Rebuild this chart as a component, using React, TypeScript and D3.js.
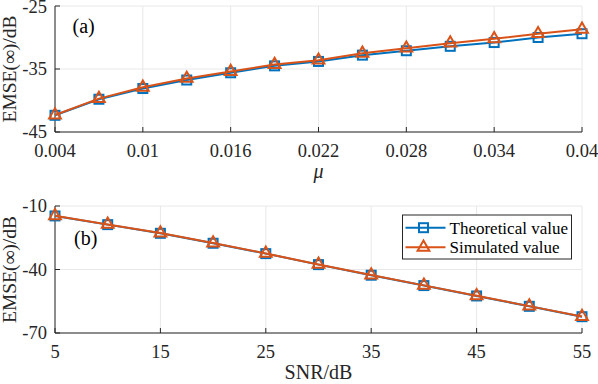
import React, { useEffect, useRef } from 'react';
import * as d3 from 'd3';

// (a) EMSE vs step size
const muValues = [0.004, 0.007, 0.01, 0.013, 0.016, 0.019, 0.022, 0.025, 0.028, 0.031, 0.034, 0.037, 0.04];
const muTheory = [-42.35, -39.8, -38.1, -36.75, -35.6, -34.5, -33.8, -32.8, -32.1, -31.4, -30.8, -30.0, -29.4];
const muSimulated = [-42.3, -39.7, -37.9, -36.5, -35.4, -34.3, -33.6, -32.5, -31.7, -30.9, -30.2, -29.4, -28.7];
const muTicks = [0.004, 0.01, 0.016, 0.022, 0.028, 0.034, 0.04];
const muYTicks = [-45, -35, -25];

// (b) EMSE vs SNR
const snrValues = [5, 10, 15, 20, 25, 30, 35, 40, 45, 50, 55];
const snrTheory = [-14.7, -18.8, -22.9, -27.6, -32.5, -37.7, -42.7, -47.6, -52.5, -57.4, -62.3];
const snrSimulated = [-14.6, -18.7, -22.8, -27.5, -32.4, -37.6, -42.6, -47.5, -52.4, -57.3, -62.2];
const snrTicks = [5, 15, 25, 35, 45, 55];
const snrYTicks = [-70, -40, -10];

const seriesNames = ['Theoretical value', 'Simulated value'];

const BLUE = '#0072BD';
const ORANGE = '#D95319';
const AXIS = '#262626';
const FONT = '"Liberation Serif", "Times New Roman", serif';

const App = () => {
    const ref = useRef<SVGSVGElement | null>(null);

    useEffect(() => {
        const svg = d3.select(ref.current);
        svg.selectAll('*').remove();

        const left = 55;
        const right = 582;

        const drawPanel = (opts: any) => {
            const { top, bottom, xs, ys1, ys2, xDomain, yDomain, xTicks, yTicks, xFmt, tag, tagX, tagY, xLabel, xLabelItalic, legend } = opts;
            const x = d3.scaleLinear().domain(xDomain).range([left, right]);
            const y = d3.scaleLinear().domain(yDomain).range([bottom, top]);
            const g = svg.append('g');

            // grid
            g.selectAll('.vg').data(xTicks).enter().append('line')
                .attr('x1', (d: number) => x(d)).attr('x2', (d: number) => x(d))
                .attr('y1', top).attr('y2', bottom)
                .attr('stroke', '#e8e8e8').attr('stroke-width', 1);
            g.selectAll('.hg').data(yTicks).enter().append('line')
                .attr('x1', left).attr('x2', right)
                .attr('y1', (d: number) => y(d)).attr('y2', (d: number) => y(d))
                .attr('stroke', '#e8e8e8').attr('stroke-width', 1);

            // axes lines
            g.append('line').attr('x1', left).attr('x2', right).attr('y1', bottom).attr('y2', bottom)
                .attr('stroke', AXIS).attr('stroke-width', 1);
            g.append('line').attr('x1', left).attr('x2', left).attr('y1', top).attr('y2', bottom)
                .attr('stroke', AXIS).attr('stroke-width', 1);

            // inward ticks
            g.selectAll('.xt').data(xTicks).enter().append('line')
                .attr('x1', (d: number) => x(d)).attr('x2', (d: number) => x(d))
                .attr('y1', bottom).attr('y2', bottom - 5)
                .attr('stroke', AXIS);
            g.selectAll('.yt').data(yTicks).enter().append('line')
                .attr('x1', left).attr('x2', left + 5)
                .attr('y1', (d: number) => y(d)).attr('y2', (d: number) => y(d))
                .attr('stroke', AXIS);

            // tick labels
            g.selectAll('.xl').data(xTicks).enter().append('text')
                .attr('x', (d: number) => x(d)).attr('y', bottom + 25)
                .attr('text-anchor', 'middle')
                .attr('font-family', FONT).attr('font-size', 18.5).attr('fill', AXIS)
                .text((d: number) => xFmt(d));
            g.selectAll('.yl').data(yTicks).enter().append('text')
                .attr('x', left - 8).attr('y', (d: number) => Math.max(y(d) + 6, 13))
                .attr('text-anchor', 'end')
                .attr('font-family', FONT).attr('font-size', 18.5).attr('fill', AXIS)
                .text((d: number) => String(d));

            // axis labels
            g.append('text')
                .attr('transform', `translate(16, ${(top + bottom) / 2}) rotate(-90)`)
                .attr('text-anchor', 'middle')
                .attr('font-family', FONT).attr('font-size', 19.5).attr('fill', AXIS)
                .text('EMSE(\u221E)/dB');
            g.append('text')
                .attr('x', (left + right) / 2).attr('y', bottom + 46)
                .attr('text-anchor', 'middle')
                .attr('font-family', FONT).attr('font-size', 20).attr('fill', AXIS)
                .attr('font-style', xLabelItalic ? 'italic' : 'normal')
                .text(xLabel);

            g.append('text')
                .attr('x', tagX).attr('y', tagY)
                .attr('font-family', FONT).attr('font-size', 20).attr('fill', '#000')
                .text(tag);

            const line = d3.line<[number, number]>().x((d) => x(d[0])).y((d) => y(d[1]));
            const d1 = xs.map((v: number, i: number) => [v, ys1[i]] as [number, number]);
            const d2 = xs.map((v: number, i: number) => [v, ys2[i]] as [number, number]);

            g.append('path').attr('d', line(d1)).attr('fill', 'none').attr('stroke', BLUE).attr('stroke-width', 2);
            g.selectAll('.sq').data(d1).enter().append('rect')
                .attr('x', (d: [number, number]) => x(d[0]) - 4.5).attr('y', (d: [number, number]) => y(d[1]) - 4.5)
                .attr('width', 9).attr('height', 9)
                .attr('fill', 'none').attr('stroke', BLUE).attr('stroke-width', 2);

            const tri = d3.symbol().type(d3.symbolTriangle).size(60);
            g.append('path').attr('d', line(d2)).attr('fill', 'none').attr('stroke', ORANGE).attr('stroke-width', 2);
            g.selectAll('.tr').data(d2).enter().append('path')
                .attr('d', tri())
                .attr('transform', (d: [number, number]) => `translate(${x(d[0])},${y(d[1])})`)
                .attr('fill', 'none').attr('stroke', ORANGE).attr('stroke-width', 2);

            if (legend) {
                const lx = 402.5;
                const ly = 215;
                g.append('rect').attr('x', lx).attr('y', ly).attr('width', 169).attr('height', 44)
                    .attr('fill', '#fff').attr('stroke', AXIS).attr('stroke-width', 1);
                seriesNames.forEach((name, i) => {
                    const cy = ly + 12.7 + i * 19.6;
                    const color = i === 0 ? BLUE : ORANGE;
                    g.append('line').attr('x1', lx + 3).attr('x2', lx + 43).attr('y1', cy).attr('y2', cy)
                        .attr('stroke', color).attr('stroke-width', 2);
                    if (i === 0) {
                        g.append('rect').attr('x', lx + 16.5).attr('y', cy - 4.5).attr('width', 9).attr('height', 9)
                            .attr('fill', 'none').attr('stroke', color).attr('stroke-width', 2);
                    } else {
                        g.append('path').attr('d', tri()).attr('transform', `translate(${lx + 21},${cy})`)
                            .attr('fill', 'none').attr('stroke', color).attr('stroke-width', 2);
                    }
                    g.append('text').attr('x', lx + 47).attr('y', cy + 6)
                        .attr('font-family', FONT).attr('font-size', 17).attr('fill', '#000')
                        .text(name);
                });
            }
        };

        drawPanel({
            top: 6, bottom: 132,
            xs: muValues, ys1: muTheory, ys2: muSimulated,
            xDomain: [0.004, 0.04], yDomain: [-45, -25],
            xTicks: muTicks, yTicks: muYTicks,
            xFmt: (d: number) => String(+d.toFixed(3)),
            tag: '(a)', tagX: 72.5, tagY: 33, xLabel: '\u03BC', xLabelItalic: true, legend: false,
        });

        drawPanel({
            top: 206, bottom: 333,
            xs: snrValues, ys1: snrTheory, ys2: snrSimulated,
            xDomain: [5, 55], yDomain: [-70, -10],
            xTicks: snrTicks, yTicks: snrYTicks,
            xFmt: (d: number) => String(d),
            tag: '(b)', tagX: 74, tagY: 245, xLabel: 'SNR/dB', xLabelItalic: false, legend: true,
        });
    }, []);

    return (
        <svg ref={ref} width={598} height={384}
            style={{ position: 'absolute', left: 0, top: 0, background: '#fff' }} />
    );
};

export default App;
